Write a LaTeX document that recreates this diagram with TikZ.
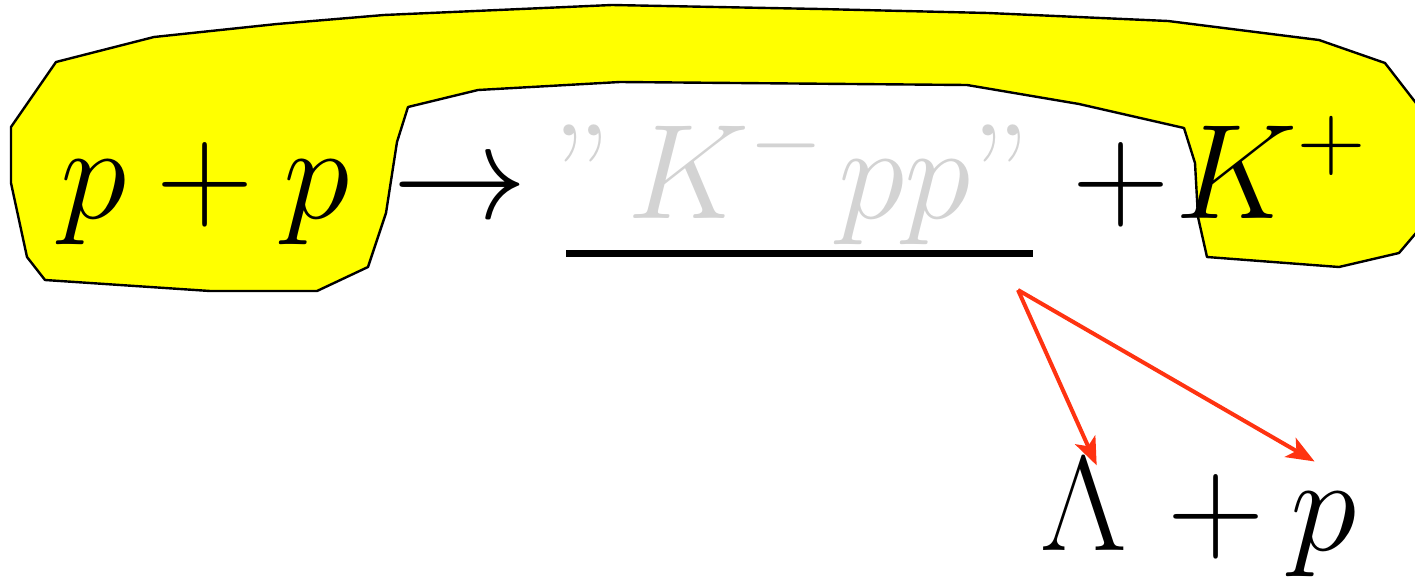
\RequirePackage{fix-cm}
\documentclass[tikz,border=0pt]{standalone}
\usepackage{xcolor}
\usetikzlibrary{arrows.meta}

\definecolor{hiyellow}{RGB}{255,255,0}
\definecolor{ghostgray}{RGB}{211,211,211}
\definecolor{decayred}{RGB}{255,51,17}

\begin{document}
\begin{tikzpicture}[
  x=0.5pt, y=-0.5pt,
  term/.style={
    anchor=base west, inner sep=0pt,
    font=\fontsize{67.5}{80}\selectfont
  },
  decay/.style={
    -{Stealth[length=14pt,width=11pt,inset=3.5pt]},
    line width=2pt, draw=decayred
  }
]

\useasboundingbox (0,0) rectangle (1415,578);
\clip (0,0) rectangle (1415,578);

% highlighted loop round the initial and final particles
\draw[fill=hiyellow, line width=1.2pt, line join=round]
  (56,62) -- (154,37) -- (277,24) -- (384,15) -- (612,5) -- (820,9)
  -- (988,13) -- (1168,21) -- (1319,40) -- (1385,63) -- (1416,103)
  -- (1440,170) -- (1416,233) -- (1399,253) -- (1339,267) -- (1207,257)
  -- (1198,217) -- (1195,163) -- (1184,128) -- (1079,104) -- (967,85)
  -- (620,82) -- (478,90) -- (408,107) -- (397,142) -- (386,213)
  -- (368,267) -- (317,291) -- (210,291) -- (45,280) -- (27,257)
  -- (11,183) -- (11,127) -- cycle;

\node[term] (reac) at (60,218) {$p+p$};
\node[term] (arrow) at (392,218) {$\to$};
\node[term, text=ghostgray] (kpp) at (552,218) {''\kern0.12em$K^-\mkern2mu pp$''};
\node[term] (plus) at (1072,218) {$+$};
\node[term] (kplus) at (1175,218) {$K^+$};

\draw[line width=3.5pt] (566,253) -- (1033,253);

\node[term] (lam) at (1040,550) {$\Lambda$};
\node[term] (dplus) at (1167,550) {$+$};
\node[term] (dprot) at (1290,550) {$p$};

\coordinate (fork) at (1018,290);
\draw[decay] (fork) -- ([shift={(13,8)}]lam.north);
\draw[decay] (fork) -- ([shift={(-9,-30)}]dprot.north);

\end{tikzpicture}
\end{document}
